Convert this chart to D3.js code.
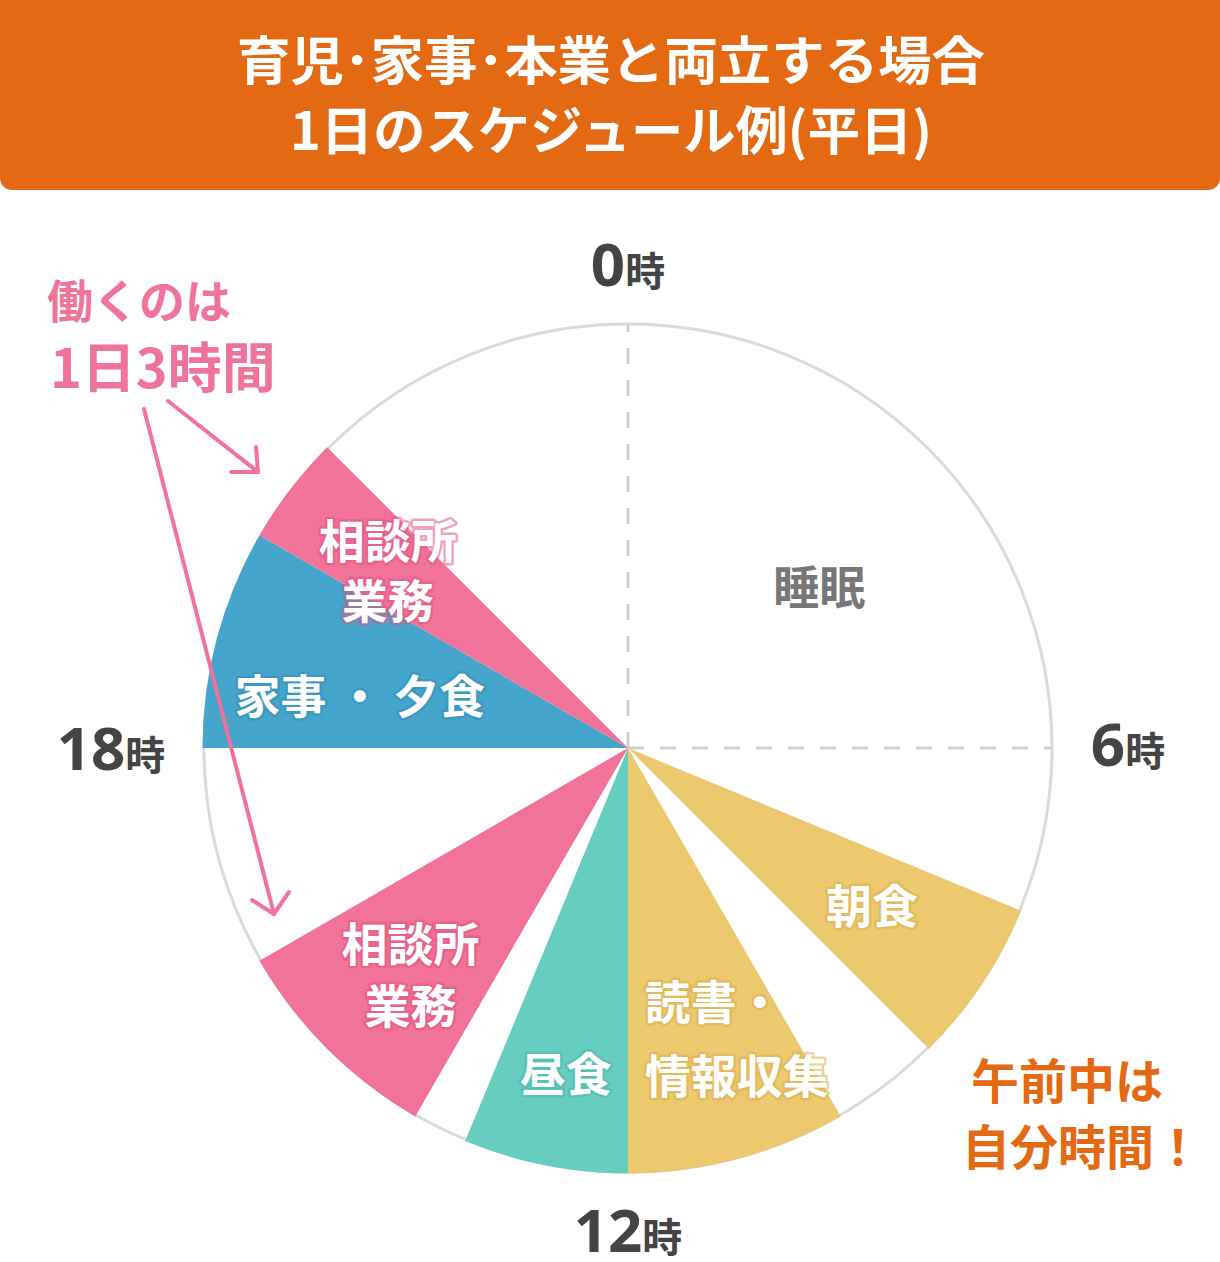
<!DOCTYPE html>
<html>
<head>
<meta charset="utf-8">
<script src="https://cdn.jsdelivr.net/npm/d3@7"></script>
<style>
  body { margin: 0; background: #fff; }
  svg { display: block; font-family: "Noto Sans CJK JP", "Noto Sans", sans-serif; }
</style>
</head>
<body>
<div id="chart"></div>
<script>
// 1日のスケジュール (24時間の円グラフ)

// data
const titleLines = ["育児･家事･本業と両立する場合", "1日のスケジュール例(平日)"];
const segStart = [21, 6, 7.5, 9, 10, 12, 13.5, 14, 16, 18, 20];
const segEnd = [30, 7.5, 9, 10, 12, 13.5, 14, 16, 18, 20, 21];
const segLabels = [["睡眠"], [], ["朝食"], [], ["読書・", "情報収集"], ["昼食"], [], ["相談所", "業務"], [], ["家事・夕食"], ["相談所", "業務"]];
const segKinds = ["free", "free", "meal", "free", "self", "lunch", "free", "work", "free", "house", "work"];
const hourTicks = [0, 6, 12, 18];
const workNote = ["働くのは", "1日3時間"];
const morningNote = ["午前中は", "自分時間！"];

// layout / style
const width = 1220, height = 1262;
const cx = 628, cy = 748, radius = 424;
const kindColor = {
  free: "#ffffff", meal: "#ecc96e", self: "#ecc96e", lunch: "#66cdc0",
  work: "#f2739a", house: "#45a5cb"
};
const kindHalo = {
  free: "none", meal: "#d9b050", self: "#d9b050", lunch: "#4fb5a8",
  work: "#e0557f", house: "#3490b5"
};
// label anchor per segment: [hour, distance from center, anchor]
const labelPos = [[3.33, 250, "middle"], null, [8.2, 291, "middle"], null, [11.78, 292, "start"],
  [12.72, 332, "middle"], null, [14.91, 315, "middle"], null, [18.72, 273, "middle"], [20.42, 298, "middle"]];
const labelGap = [0, 0, 0, 0, 74, 0, 0, 62, 0, 0, 60];
const tickDist = [470, 500, 488, 517];
const tickShift = [8, 18, 16, 22];

const svg = d3.select("#chart").append("svg")
  .attr("width", width)
  .attr("height", height);

// title band
svg.append("rect")
  .attr("x", 0).attr("y", -20)
  .attr("width", width).attr("height", 210)
  .attr("rx", 12)
  .attr("fill", "#e36a12");

const titleWidths = [748, 642];
svg.append("g").selectAll("text")
  .data(titleLines)
  .enter()
  .append("text")
  .attr("x", 611)
  .attr("y", (d, i) => 80 + i * 70)
  .attr("text-anchor", "middle")
  .attr("textLength", (d, i) => titleWidths[i])
  .attr("lengthAdjust", "spacingAndGlyphs")
  .attr("font-size", 52)
  .attr("font-weight", 700)
  .attr("fill", "#fff")
  .text(d => d);

// angle scale: 0時 at top, clockwise
const angle = d3.scaleLinear().domain([0, 24]).range([0, 2 * Math.PI]);
const polar = (h, r) => [cx + r * Math.sin(angle(h)), cy - r * Math.cos(angle(h))];

const pie = svg.append("g").attr("transform", `translate(${cx},${cy})`);

// outline circle
pie.append("circle")
  .attr("r", radius)
  .attr("fill", "#fff")
  .attr("stroke", "#dadada")
  .attr("stroke-width", 3);

// dashed guides to 0時 and 6時
const guide = pie.append("g")
  .attr("stroke", "#cfcfcf")
  .attr("stroke-width", 3)
  .attr("stroke-dasharray", "16 16");
[0, 6].forEach(h => {
  guide.append("line")
    .attr("x1", 0).attr("y1", 0)
    .attr("x2", radius * Math.sin(angle(h)))
    .attr("y2", -radius * Math.cos(angle(h)));
});

// slices
const arc = d3.arc().innerRadius(0).outerRadius(radius + 1.5);
const segs = segStart.map((s, i) => ({ s: s, e: segEnd[i], kind: segKinds[i], lines: segLabels[i], i: i }));

pie.append("g").selectAll("path")
  .data(segs.filter(d => d.kind != "free"))
  .enter()
  .append("path")
  .attr("d", d => arc({ startAngle: angle(d.s), endAngle: angle(d.e) }))
  .attr("fill", d => kindColor[d.kind]);

// slice labels
const labels = svg.append("g")
  .attr("font-size", 46)
  .attr("font-weight", 700);

segs.forEach(d => {
  let p = labelPos[d.i];
  if (!p || d.lines.length == 0) return;
  let [x, y] = polar(p[0], p[1]);
  let n = d.lines.length;
  let gap = labelGap[d.i];
  d.lines.forEach((t, k) => {
    labels.append("text")
      .attr("x", x)
      .attr("y", y + (k - (n - 1) / 2) * gap)
      .attr("dy", "0.36em")
      .attr("text-anchor", p[2])
      .attr("fill", d.kind == "free" ? "#777" : "#fff")
      .attr("stroke", kindHalo[d.kind])
      .attr("stroke-width", d.kind == "free" ? 0 : 5)
      .attr("stroke-opacity", 0.55)
      .attr("stroke-linejoin", "round")
      .attr("paint-order", "stroke")
      .text(t == "家事・夕食" ? "家事 ・ 夕食" : t);
  });
});

// hour labels
const ticks = svg.append("g").attr("fill", "#444").attr("font-weight", 700);
hourTicks.forEach((h, i) => {
  let [x, y] = polar(h, tickDist[i]);
  let t = ticks.append("text")
    .attr("x", x)
    .attr("y", y + tickShift[i])
    .attr("text-anchor", "middle")
    .attr("font-family", "'Noto Sans', 'Noto Sans CJK JP', sans-serif");
  t.append("tspan").attr("font-size", 60).text(h);
  t.append("tspan").attr("font-size", 40)
    .attr("font-family", "'Noto Sans CJK JP', sans-serif").text("時");
});

// annotations
const pink = "#f0739a", orange = "#e36a12";
svg.append("g").selectAll("text")
  .data(workNote)
  .enter()
  .append("text")
  .attr("x", (d, i) => i == 0 ? 47 : 50)
  .attr("y", (d, i) => i == 0 ? 318 : 388)
  .attr("font-size", (d, i) => i == 0 ? 46 : 54)
  .attr("font-weight", 700)
  .attr("fill", pink)
  .text(d => d);

const arrows = svg.append("g")
  .attr("fill", "none")
  .attr("stroke", pink)
  .attr("stroke-width", 4)
  .attr("stroke-linecap", "round")
  .attr("stroke-linejoin", "round");
arrows.append("path").attr("d", "M168,401 L258,472");
arrows.append("path").attr("d", "M256,447 L258,472 L231,472");
arrows.append("path").attr("d", "M144,409 L274,914");
arrows.append("path").attr("d", "M252,900 L274,914 L289,892");

svg.append("g").selectAll("text")
  .data(morningNote)
  .enter()
  .append("text")
  .attr("x", (d, i) => i == 0 ? 971 : 962)
  .attr("y", (d, i) => 1099 + i * 66)
  .attr("font-size", 48)
  .attr("font-weight", 700)
  .attr("fill", orange)
  .text(d => d);
</script>
</body>
</html>
